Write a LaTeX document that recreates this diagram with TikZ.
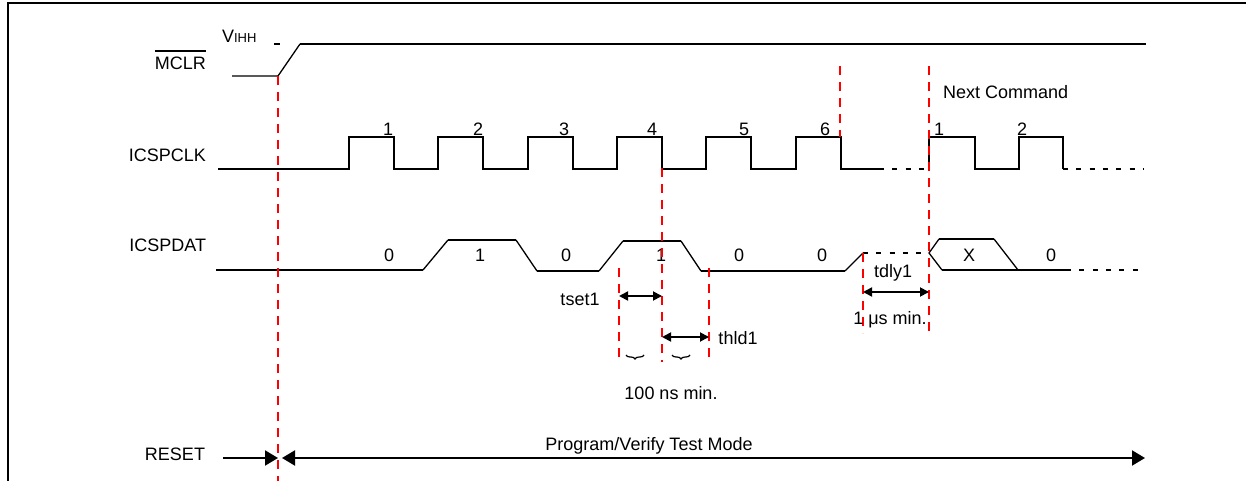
\documentclass[tikz,border=0pt]{standalone}
\usepackage{fontspec}
\setmainfont{Liberation Sans}
\usetikzlibrary{math,calc,arrows.meta,decorations.pathreplacing}

\begin{document}
\begin{tikzpicture}[x=1pt,y=-1pt,
	every node/.style={inner sep=0pt,outer sep=0pt,font=\fontsize{18}{20}\selectfont},
	sig/.style={line width=2pt},
	ramp/.style={line width=1.3pt},
	hidden/.style={line width=2pt,dash pattern=on 5pt off 8.3pt},
	redline/.style={draw=red,line width=2pt,dash pattern=on 9pt off 7pt},
	dim/.style={line width=1.8pt,{Triangle[length=9pt,width=9pt]}-{Triangle[length=9pt,width=9pt]}},
	brc/.style={line width=1.2pt,decorate,decoration={brace,amplitude=4pt,mirror}}]
	
	\useasboundingbox (0,0) rectangle (1246,481);
	
	\tikzmath{
		real \Per, \Wid, \Lo, \Hi;
		\Per = 89.3;
		\Wid = 45;
		\Lo = 169;
		\Hi = 137;
	}
	
	%---------------------------------------------
	
	\draw[line width=2pt] (8,481) -- (8,3) -- (1246,3);
	
	\node[anchor=west] (vihh) at (222,36) {V{\fontsize{13}{14}\selectfont IHH}};
	\node[anchor=east] (mclr) at (206,63) {MCLR};
	\draw[ramp] ([yshift=5.5pt]mclr.north west) -- ([yshift=5.5pt]mclr.north east);
	\node[anchor=east] (clk) at (206,155) {ICSPCLK};
	\node[anchor=east] (dat) at (206,245) {ICSPDAT};
	\node[anchor=east] (rst) at (205,454) {RESET};
	
	%---------------------------------------------
	
	\draw[ramp] (232,76) -- (278,76) -- (300,44);
	\draw[ramp] (274,44) -- (280,44);
	\draw[sig] (300,44) -- (1146,44);
	
	%---------------------------------------------
	
	\draw[sig] (218,\Lo) foreach \i in {0,...,5} {
		-- ({349+\i*\Per},\Lo) -- ({349+\i*\Per},\Hi) -- ({349+\i*\Per+\Wid},\Hi) -- ({349+\i*\Per+\Wid},\Lo)
	} -- (879,\Lo);
	\draw[hidden] (879,\Lo) -- (929,\Lo);
	\draw[sig] (929,\Lo) -- (929,\Hi) -- (975,\Hi) -- (975,\Lo) -- (1019,\Lo) -- (1019,\Hi) -- (1063,\Hi) -- (1063,\Lo);
	\draw[hidden] (1063,\Lo) -- (1143,\Lo);
	
	\foreach \n/\x in {1/388,2/478,3/564,4/652,5/744,6/825}
		\node (c\n) at (\x,129) {\n};
	\node (n1) at (939,129) {1};
	\node (n2) at (1022,129) {2};
	\node[anchor=west] (next) at (943,92) {Next Command};
	
	%---------------------------------------------
	
	\draw[sig] (216,270) -- (423,270);
	\draw[ramp] (423,270) -- (448,240);
	\draw[sig] (448,240) -- (516,240);
	\draw[ramp] (516,240) -- (537,271);
	\draw[sig] (537,271) -- (599,271);
	\draw[ramp] (599,271) -- (623,241);
	\draw[sig] (623,241) -- (681,241);
	\draw[ramp] (681,241) -- (701,271);
	\draw[sig] (701,271) -- (845,271);
	\draw[ramp] (845,271) -- (863,253);
	\draw[hidden] (863,253) -- (929,253);
	\draw[ramp] (942,270) -- (929,253) -- (939,239);
	\draw[sig] (939,239) -- (994,239);
	\draw[ramp] (994,239) -- (1018,270);
	\draw[sig] (942,270) -- (1066,270);
	\draw[hidden] (1066,270) -- (1143,270);
	
	\foreach \n/\v/\x in {a/0/389,b/1/480,c/0/566,d/1/661,e/0/739,f/0/822,g/X/969,h/0/1051}
		\node (d\n) at (\x,255) {\v};
	
	%---------------------------------------------%
	
	\foreach \x/\ya/\yb in {278/76/481, 662/168/362, 840/66/137, 929/66/335, 619/268/360, 709/268/360, 863/253/333}
		\draw[redline] (\x,\ya) -- (\x,\yb);
	
	\coordinate (s0) at (619,296);
	\coordinate (s1) at (662,296);
	\coordinate (h0) at (662,337);
	\coordinate (h1) at (709,337);
	\coordinate (w0) at (863,292);
	\coordinate (w1) at (929,292);
	
	\draw[dim] (s0) -- (s1);
	\draw[dim] (h0) -- (h1);
	\draw[dim] (w0) -- (w1);
	
	\node (tset) at (580,299) {tset1};
	\node (thld) at (738,338) {thld1};
	\node (tdly) at (893,273) {tdly1};
	\node (umin) at (890,320) {1 μs min.};
	
	\draw[brc] (626,355) -- (644,355);
	\draw[brc] (672,355) -- (690,355);
	\node (nmin) at (671,393) {100 ns min.};
	
	%---------------------------------------------%
	
	\coordinate (r0) at (223,458);
	\coordinate (r1) at (278,458);
	\coordinate (p0) at (282,458);
	\coordinate (p1) at (1145,458);
	
	\draw[line width=2pt,-{Triangle[length=13pt,width=15pt]}] (r0) -- (r1);
	\draw[line width=2pt,{Triangle[length=13pt,width=15pt]}-{Triangle[length=13pt,width=15pt]}] (p0) -- (p1);
	\node (mode) at (649,446) {Program/Verify Test Mode};
	
	%---------------------------------------------
	
\end{tikzpicture}
\end{document}
